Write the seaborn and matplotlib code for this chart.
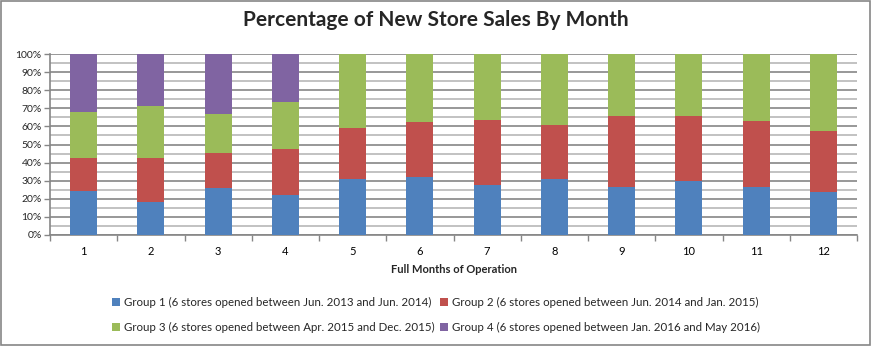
import numpy as np
import pandas as pd
import matplotlib
matplotlib.use("Agg")
import matplotlib.pyplot as plt
from matplotlib.patches import Patch
from matplotlib.ticker import MultipleLocator, FixedLocator, PercentFormatter
import seaborn as sns

months = ["1", "2", "3", "4", "5", "6", "7", "8", "9", "10", "11", "12"]
group1 = [24.1, 18.1, 25.9, 21.9, 30.7, 31.9, 27.4, 30.7, 26.3, 29.6, 26.3, 23.7]
group2 = [18.5, 24.5, 19.3, 25.5, 28.6, 30.7, 36.3, 30.0, 39.4, 36.1, 36.7, 33.7]
group3 = [25.5, 28.9, 21.8, 26.3, 40.7, 37.4, 36.3, 39.3, 34.3, 34.3, 37.0, 42.6]
group4 = [31.9, 28.5, 33.0, 26.3, 0, 0, 0, 0, 0, 0, 0, 0]
labels = [
    "Group 1 (6 stores opened between Jun. 2013 and Jun. 2014)",
    "Group 2 (6 stores opened between Jun. 2014 and Jan. 2015)",
    "Group 3 (6 stores opened between Apr. 2015 and Dec. 2015)",
    "Group 4 (6 stores opened between Jan. 2016 and May 2016)",
]
colors = ["#4F81BD", "#C0504D", "#9BBB59", "#8064A2"]

sns.set_theme(style="white")
plt.rcParams["font.family"] = ["Lato", "DejaVu Sans"]

series = np.array([group1, group2, group3, group4])
cum = np.cumsum(series, axis=0)
total = cum[-1]
pct = cum / total * 100

fig = plt.figure(figsize=(8.72, 3.46), dpi=100)
ax = fig.add_axes([50 / 872, 111 / 346, 807 / 872, 181 / 346])

for i in range(3, -1, -1):
    df = pd.DataFrame({"month": months, "value": pct[i]})
    sns.barplot(data=df, x="month", y="value", color=colors[i], width=0.40,
                saturation=1, ax=ax, order=months, linewidth=0, zorder=3)

ax.set_xlim(-0.5, 11.5)
ax.set_ylim(0, 100)
ax.yaxis.set_major_locator(MultipleLocator(10))
ax.yaxis.set_minor_locator(MultipleLocator(5))
ax.yaxis.set_major_formatter(PercentFormatter(decimals=0))
ax.grid(axis="y", which="minor", color="#B8B8B8", linewidth=1.2, zorder=0)
ax.grid(axis="y", which="major", color="#868686", linewidth=1.2, zorder=0)
ax.xaxis.set_minor_locator(FixedLocator(np.arange(-0.5, 12, 1)))
ax.tick_params(axis="x", which="major", length=0, labelsize=8, pad=8, colors="black")
ax.tick_params(axis="x", which="minor", length=4, width=1, color="#868686", direction="out", bottom=True)
ax.tick_params(axis="y", which="major", length=4, width=1, color="#868686", direction="out",
               labelsize=7.5, pad=2, left=True)
ax.tick_params(axis="y", which="minor", length=0)
for s in ["top", "right"]:
    ax.spines[s].set_visible(False)
for s in ["left", "bottom"]:
    ax.spines[s].set_color("#868686")
    ax.spines[s].set_linewidth(1.2)
ax.set_ylabel("")
ax.set_xlabel("Full Months of Operation", fontsize=8, fontweight="bold", labelpad=5)

fig.suptitle("Percentage of New Store Sales By Month", fontsize=15, fontweight="bold",
             x=0.5, y=0.97, va="top")

handles = [Patch(facecolor=c, edgecolor="none") for c in colors]
order = [0, 2, 1, 3]
fig.legend([handles[i] for i in order], [labels[i] for i in order], ncol=2,
           loc="center", bbox_to_anchor=(0.5, 0.09), frameon=False, fontsize=8.3,
           handlelength=0.7, handleheight=0.7, handletextpad=0.4, columnspacing=0.4,
           labelspacing=1.2)

fig.patches.append(plt.Rectangle((0.001, 0.002), 0.997, 0.995, transform=fig.transFigure,
                                 fill=False, edgecolor="#868686", linewidth=1.2))

fig.savefig("out.png", dpi=100, facecolor="white")
